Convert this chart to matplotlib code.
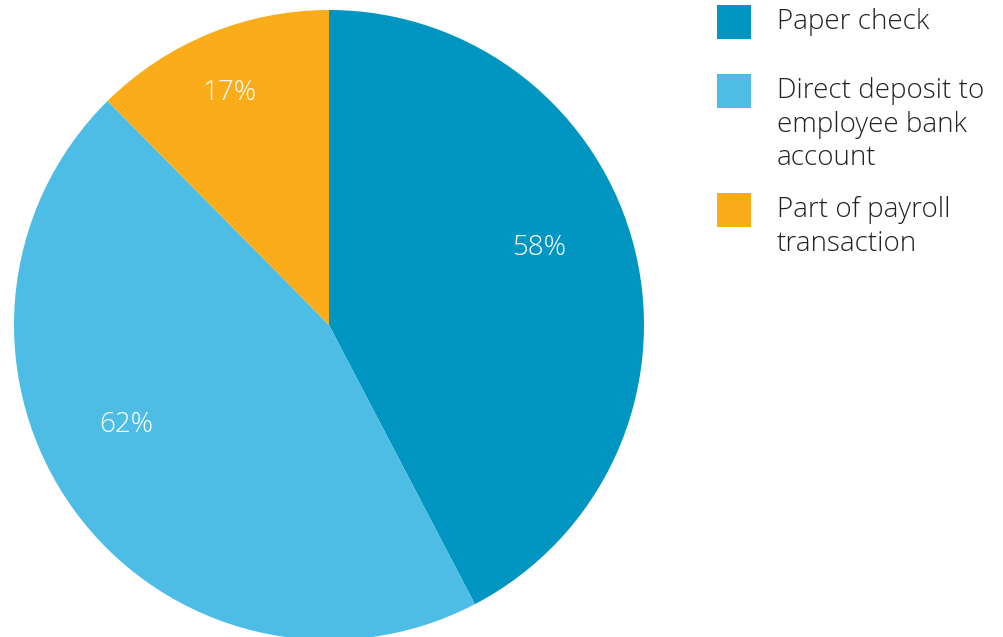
import matplotlib
matplotlib.use("Agg")
import matplotlib.pyplot as plt
from matplotlib.patches import Rectangle

plt.rcParams['font.family'] = ['Open Sans', 'DejaVu Sans']

categories = ['Paper check', 'Direct deposit to\nemployee bank\naccount', 'Part of payroll\ntransaction']
values = [58, 62, 17]
colors = ['#0096c1', '#4dbde6', '#fbac1a']
# where each percentage label sits, in pie radius units
label_pos = [(0.667, 0.244), (-0.644, -0.318), (-0.317, 0.738)]

W, H = 1004, 637
fig = plt.figure(figsize=(W / 100, H / 100), dpi=100)

# pie: center (329, 325) px, radius 315 px
cx, cy, r = 329, 325, 315
ax = fig.add_axes([(cx - r) / W, (H - cy - r) / H, 2 * r / W, 2 * r / H])
ax.pie(values, colors=colors, startangle=90, counterclock=False, radius=1,
       wedgeprops=dict(linewidth=0))
ax.set_xlim(-1, 1)
ax.set_ylim(-1, 1)
ax.set_aspect('equal')
ax.axis('off')

for v, (x, y) in zip(values, label_pos):
    ax.text(x, y, f'{v}%', color='white', fontsize=20, fontweight='light',
            ha='center', va='center')

# legend drawn by hand: square + text
sq_tops = [5, 74, 193]
for cat, col, top in zip(categories, colors, sq_tops):
    fig.add_artist(Rectangle((717 / W, (H - top - 34) / H), 34 / W, 34 / H,
                             transform=fig.transFigure, facecolor=col,
                             edgecolor='none'))
    fig.text(777 / W, (H - top - 3) / H, cat, fontsize=20, fontweight='light',
             color='#222222', ha='left', va='top', linespacing=1.27)

fig.savefig('out.png', dpi=100)
